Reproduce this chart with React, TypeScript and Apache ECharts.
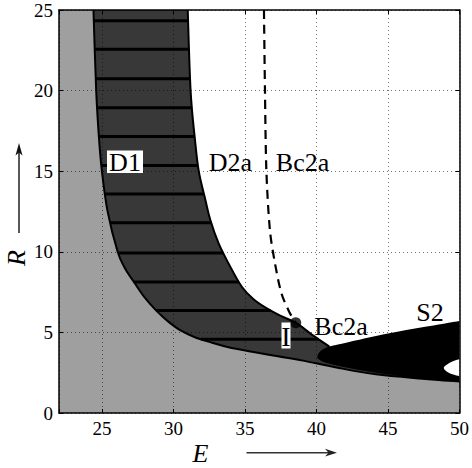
import React, { useEffect, useRef } from "react";
import * as echarts from "echarts";

// ---- data ----
const xTicks = [25, 30, 35, 40, 45, 50];
const yTicks = [0, 5, 10, 15, 20, 25];

// right boundary of D1 (E, R)
const upperCurve: [number, number][] = [
  [31.0, 25], [31.2, 20], [31.5, 17], [31.77, 15], [32.24, 13.2], [32.58, 11.97],
  [33.16, 10.52], [33.85, 9.28], [34.78, 7.83], [35.6, 7.05], [36.5, 6.5],
  [37.5, 6.02], [38.55, 5.6], [39.7, 4.85], [40.9, 4.12],
];
// left / lower boundary of D1 (E, R)
const lowerCurve: [number, number][] = [
  [24.41, 25], [24.6, 20], [24.8, 17], [25.0, 15], [25.4, 12.5], [26.1, 10], [26.6, 9],
  [27.26, 8.1], [28.0, 7.15], [28.8, 6.35], [29.6, 5.7], [30.5, 5.12], [31.5, 4.7],
  [32.7, 4.36], [33.85, 4.08], [35.5, 3.8], [37.3, 3.52], [39.06, 3.25], [41.4, 2.82],
  [44.15, 2.4], [47.4, 2.13], [50, 1.96],
];
// Bc2a dashed curve (E, R)
const bc2aCurve: [number, number][] = [
  [36.33, 25], [36.4, 20], [36.5, 15], [36.75, 11.3], [37.1, 9.28], [37.56, 7.4],
  [38.1, 6.27], [38.55, 5.6],
];
// S2 black region: upper edge, hole edge, lower edge (E, R)
const s2Upper: [number, number][] = [
  [40.04, 3.44], [40.25, 3.82], [40.9, 4.12], [42, 4.35], [45, 4.93], [47.5, 5.33], [50, 5.71],
];
const s2Hole: [number, number][] = [
  [50, 3.33], [49.5, 3.2], [49.1, 3.0], [48.9, 2.8], [49.1, 2.57], [49.5, 2.4], [50, 2.28],
];
const s2Lower: [number, number][] = [
  [46.5, 2.2], [45.5, 2.33], [44.15, 2.5], [42.8, 2.7], [41.4, 2.95], [40.4, 3.2], [40.04, 3.44],
];
// horizontal stripe levels inside D1 (R)
const stripeLevels = [24.34, 22.56, 20.74, 18.93, 17.16, 15.36, 13.58, 11.8, 9.93, 8.13, 6.36, 4.58];
const bc2aPoint: [number, number] = [38.55, 5.6];

const E_MIN = 22, E_MAX = 50, R_MIN = 0, R_MAX = 25;

function eAtR(curve: [number, number][], r: number): number | null {
  for (let i = 0; i < curve.length - 1; i++) {
    const [e1, r1] = curve[i];
    const [e2, r2] = curve[i + 1];
    if ((r - r1) * (r - r2) <= 0 && r1 !== r2) {
      return e1 + ((r - r1) / (r2 - r1)) * (e2 - e1);
    }
  }
  return null;
}

const stripeData = stripeLevels
  .map((r) => [eAtR(lowerCurve, r), eAtR(upperCurve, r), r])
  .filter((d) => d[0] != null && d[1] != null);

function smoothSeg(p: number[][], move: boolean): string {
  let d = (move ? "M" : "L") + p[0][0].toFixed(2) + "," + p[0][1].toFixed(2);
  for (let i = 0; i < p.length - 1; i++) {
    const p0 = p[i - 1] || p[i];
    const p1 = p[i];
    const p2 = p[i + 1];
    const p3 = p[i + 2] || p[i + 1];
    const c1 = [p1[0] + (p2[0] - p0[0]) / 6, p1[1] + (p2[1] - p0[1]) / 6];
    const c2 = [p2[0] - (p3[0] - p1[0]) / 6, p2[1] - (p3[1] - p1[1]) / 6];
    d += ` C${c1[0].toFixed(2)},${c1[1].toFixed(2)} ${c2[0].toFixed(2)},${c2[1].toFixed(2)} ${p2[0].toFixed(2)},${p2[1].toFixed(2)}`;
  }
  return d;
}
function lineSeg(p: number[][], move: boolean): string {
  return p.map((q, i) => (i === 0 && move ? "M" : "L") + q[0].toFixed(2) + "," + q[1].toFixed(2)).join(" ");
}

type Part = { pts: [number, number][]; smooth: boolean };
const pathSeries = (parts: Part[], fill: string | null, stroke: string | null, width: number, z: number) => ({
  type: "custom",
  z,
  silent: true,
  clip: true,
  coordinateSystem: "cartesian2d",
  encode: { x: 0, y: 1 },
  data: [[30, 10]],
  renderItem: (_p: any, api: any) => {
    let d = "";
    parts.forEach((part, i) => {
      const px = part.pts.map((q) => api.coord(q));
      d += (i ? " " : "") + (part.smooth ? smoothSeg(px, i === 0) : lineSeg(px, i === 0));
    });
    if (fill) d += " Z";
    return {
      type: "path",
      shape: { pathData: d },
      style: { fill: fill || "none", stroke: stroke || "none", lineWidth: width },
    };
  },
});

const SERIF = "Liberation Serif";

export default function App() {
  const ref = useRef<HTMLDivElement>(null);
  useEffect(() => {
    if (!ref.current) return;
    const chart = echarts.init(ref.current, null, { renderer: "svg" });
    const axisCommon = {
      type: "value",
      axisLine: { show: true, onZero: false, lineStyle: { color: "#000", width: 1.5 } },
      axisTick: { show: true, inside: true, length: 4, lineStyle: { color: "#000", width: 1 } },
    };
    const splitLine = { show: true, lineStyle: { color: "rgba(0,0,0,0.55)", width: 1, type: [1, 3] } };
    const txt = (text: string, x: number, y: number, size = 26, italic = false) => ({
      type: "text",
      x,
      y,
      z: 100,
      style: {
        text,
        fill: "#000",
        fontFamily: SERIF,
        fontSize: size,
        fontStyle: italic ? "italic" : "normal",
        align: "center",
        verticalAlign: "middle",
      },
    });
    const whiteBox = (x: number, y: number, w: number, h: number) => ({
      type: "rect",
      z: 99,
      shape: { x, y, width: w, height: h },
      style: { fill: "#fff" },
    });
    const upperEnd = upperCurve[upperCurve.length - 1];
    chart.setOption({
      animation: false,
      grid: { left: 59, top: 10, right: 10, bottom: 55, containLabel: false },
      xAxis: [
        {
          ...axisCommon,
          z: 10,
          position: "bottom",
          min: E_MIN,
          max: E_MAX,
          axisLabel: {
            color: "#000",
            fontFamily: SERIF,
            fontSize: 19,
            margin: 6,
            formatter: (v: number) => (xTicks.includes(v) ? String(v) : ""),
          },
          splitLine,
        },
        {
          ...axisCommon,
          z: 10,
          position: "top",
          min: E_MIN,
          max: E_MAX,
          axisLabel: { show: false },
          splitLine: { show: false },
        },
      ],
      yAxis: [
        {
          ...axisCommon,
          z: 10,
          position: "left",
          min: R_MIN,
          max: R_MAX,
          interval: 5,
          axisLabel: {
            color: "#000",
            fontFamily: SERIF,
            fontSize: 19,
            margin: 6,
            formatter: (v: number) => (yTicks.includes(v) ? String(v) : ""),
          },
          splitLine,
        },
        {
          ...axisCommon,
          z: 10,
          position: "right",
          min: R_MIN,
          max: R_MAX,
          interval: 5,
          axisLabel: { show: false },
          splitLine: { show: false },
        },
      ],
      series: [
        pathSeries(
          [
            { pts: upperCurve, smooth: true },
            { pts: [[46.5, upperEnd[1] + 0.7], [46.5, R_MIN], [E_MIN, R_MIN], [E_MIN, R_MAX]], smooth: false },
          ],
          "#383838", null, 0, 1
        ),
        pathSeries(
          [
            { pts: s2Upper, smooth: true },
            { pts: s2Hole, smooth: true },
            { pts: [[E_MAX, 1.5], [46.5, 1.8]], smooth: false },
            { pts: s2Lower, smooth: true },
          ],
          "#000", null, 0, 2
        ),
        pathSeries(
          [
            { pts: lowerCurve, smooth: true },
            { pts: [[E_MAX, R_MIN], [E_MIN, R_MIN], [E_MIN, R_MAX]], smooth: false },
          ],
          "#9f9f9f", null, 0, 3
        ),
        {
          type: "custom",
          z: 4,
          silent: true,
          clip: true,
          coordinateSystem: "cartesian2d",
          encode: { x: [0, 1], y: 2 },
          data: stripeData,
          renderItem: (_p: any, api: any) => {
            const a = api.coord([api.value(0), api.value(2)]);
            const b = api.coord([api.value(1), api.value(2)]);
            return {
              type: "line",
              shape: { x1: a[0], y1: a[1], x2: b[0], y2: b[1] },
              style: { stroke: "#000", lineWidth: 3 },
            };
          },
        },
        pathSeries([{ pts: upperCurve, smooth: true }], null, "#000", 2, 5),
        pathSeries([{ pts: lowerCurve, smooth: true }], null, "#000", 2, 5),
        {
          type: "line",
          z: 6,
          data: bc2aCurve,
          symbol: "none",
          smooth: 0.3,
          silent: true,
          lineStyle: { color: "#000", width: 2.2, type: [9, 6] },
        },
        {
          type: "scatter",
          z: 7,
          data: [bc2aPoint],
          symbol: "circle",
          symbolSize: 11,
          silent: true,
          itemStyle: { color: "#000" },
        },
      ],
      graphic: [
        whiteBox(107, 150.5, 36, 22.5),
        whiteBox(281.5, 322.5, 9, 26),
        txt("D1", 125, 162),
        txt("D2a", 230.5, 162),
        txt("Bc2a", 302.5, 162),
        txt("Bc2a", 341, 326),
        txt("S2", 430, 312),
        txt("I", 286, 336, 28),
        txt("E", 200.5, 453, 26, true),
        {
          type: "text",
          x: 16.5,
          y: 258,
          rotation: Math.PI / 2,
          z: 100,
          style: {
            text: "R",
            fill: "#000",
            fontFamily: SERIF,
            fontStyle: "italic",
            fontSize: 26,
            align: "center",
            verticalAlign: "middle",
          },
        },
        {
          type: "line",
          z: 100,
          shape: { x1: 19, y1: 233, x2: 19, y2: 152 },
          style: { stroke: "#111", lineWidth: 1.4 },
        },
        {
          type: "polygon",
          z: 100,
          shape: { points: [[19, 143], [15.5, 155.5], [19, 152.5], [22.5, 155.5]] },
          style: { fill: "#111" },
        },
        {
          type: "line",
          z: 100,
          shape: { x1: 246.5, y1: 452.7, x2: 329, y2: 452.7 },
          style: { stroke: "#333", lineWidth: 1.6 },
        },
        {
          type: "polygon",
          z: 100,
          shape: { points: [[337, 452.7], [325, 448.8], [328.5, 452.7], [325, 456.6]] },
          style: { fill: "#222" },
        },
      ],
    });
    return () => chart.dispose();
  }, []);
  return (
    <div
      ref={ref}
      style={{ position: "absolute", left: 0, top: 0, width: 472, height: 468, background: "#fff" }}
    />
  );
}
